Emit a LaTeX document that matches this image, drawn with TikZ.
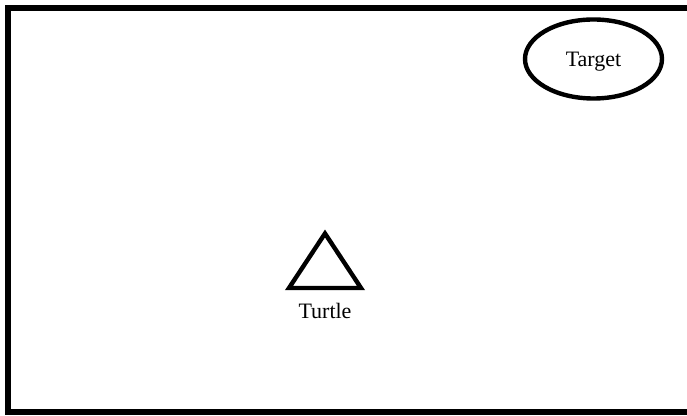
\documentclass[tikz,border=0pt]{standalone}
\usepackage{fontspec}
\setmainfont{Liberation Serif}
\usetikzlibrary{shapes.geometric, positioning}
\tikzset{
  framebox/.style={draw=black,line width=3pt,line join=miter},
  targetnode/.style={ellipse,draw=black,line width=2.2pt,inner sep=0pt,text depth=0pt,
    minimum width=68.5pt,minimum height=39.5pt,font=\fontsize{11}{13}\selectfont},
  turtleshape/.style={draw=black,line width=2.2pt,line join=miter},
  labelnode/.style={inner sep=0pt,font=\fontsize{11}{13}\selectfont}
}
\begin{document}
\begin{tikzpicture}[x=0.5pt,y=-0.5pt]
  \useasboundingbox (0,0) rectangle (687,416);
  \clip (0,0) rectangle (687,416);
  % world frame, open on the right
  \draw[framebox] (700,8) -- (8,8) -- (8,412.5) -- (700,412.5);
  % goal
  \node[targetnode] (target) at (593.5,59) {Target};
  % turtle
  \coordinate (apex) at (325,233.5);
  \coordinate (baseL) at (289,288);
  \coordinate (baseR) at (361,288);
  \draw[turtleshape] (apex) -- (baseR) -- (baseL) -- cycle;
  \node[labelnode] (turtle) at (325,311) {Turtle};
\end{tikzpicture}
\end{document}
